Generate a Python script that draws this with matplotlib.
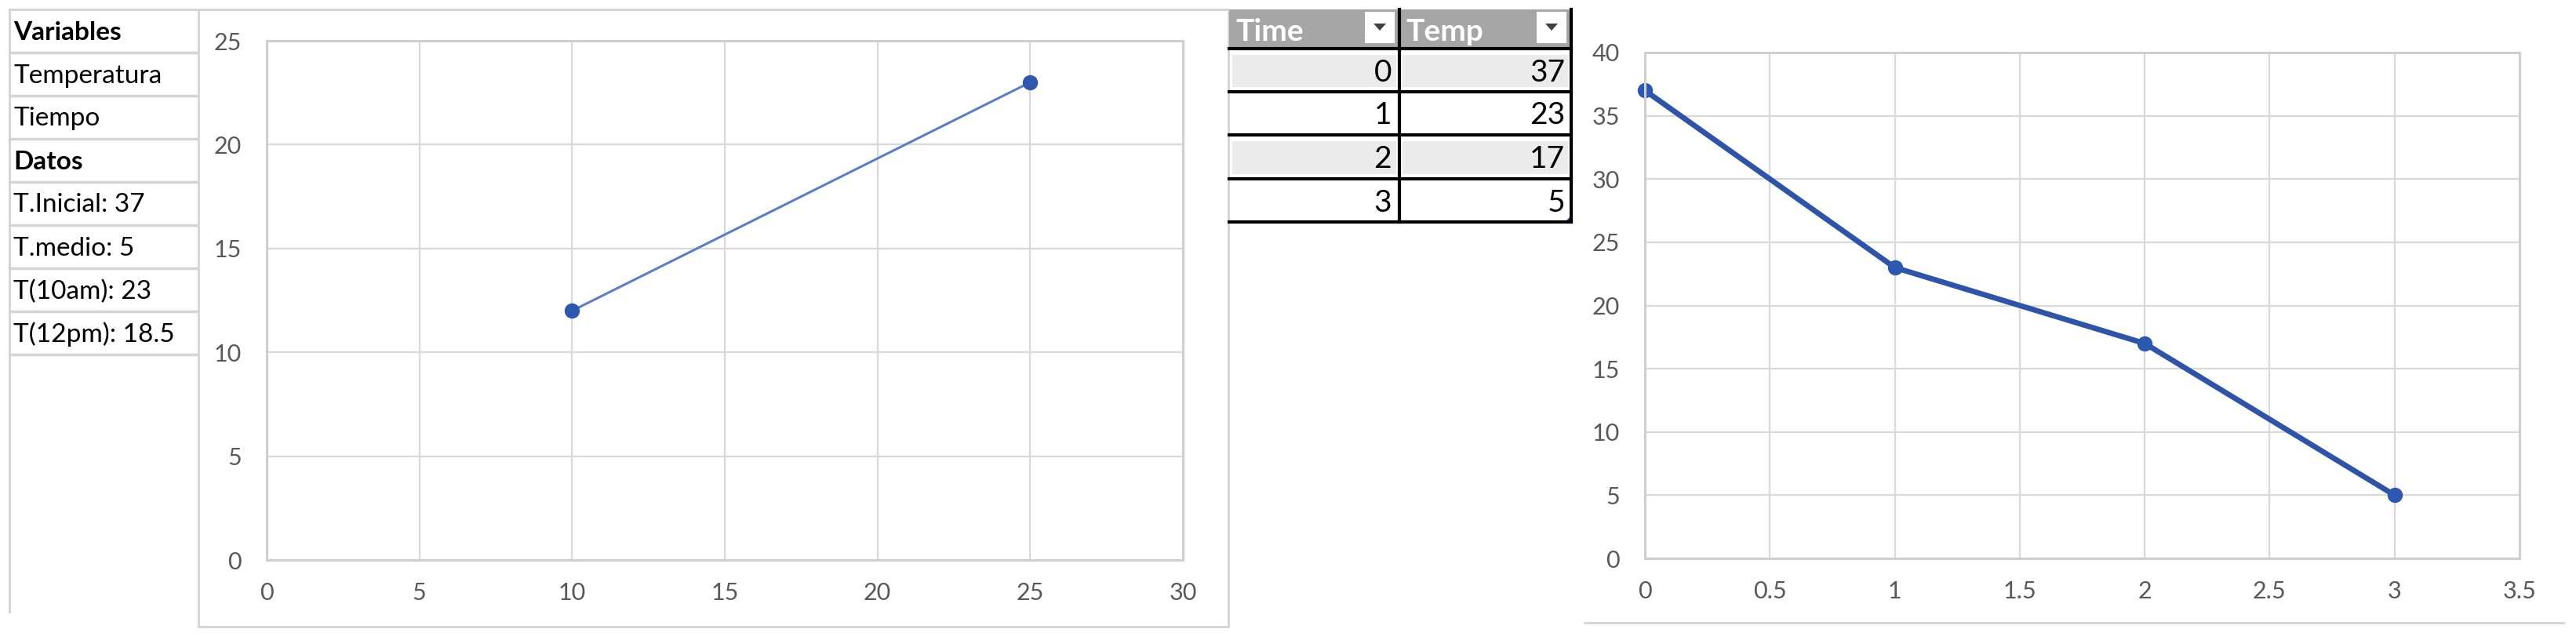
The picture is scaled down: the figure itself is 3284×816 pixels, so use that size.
import matplotlib.pyplot as plt
from matplotlib.patches import Rectangle, Polygon

plt.rcParams['font.family'] = ['Lato', 'DejaVu Sans']

# left sheet text
var_rows = ['Variables', 'Temperatura', 'Tiempo', 'Datos',
            'T.Inicial: 37', 'T.medio: 5', 'T(10am): 23', 'T(12pm): 18.5']
var_bold = [True, False, False, True, False, False, False, False]

# first chart
x1 = [10, 25]
y1 = [12, 23]
x1_ticks = [0, 5, 10, 15, 20, 25, 30]
y1_ticks = [0, 5, 10, 15, 20, 25]

# table + second chart
tbl_head = ['Time', 'Temp']
time = [0, 1, 2, 3]
temp = [37, 23, 17, 5]
x2_ticks = [0, 0.5, 1, 1.5, 2, 2.5, 3, 3.5]
y2_ticks = [0, 5, 10, 15, 20, 25, 30, 35, 40]

W, H = 3284, 816
fig = plt.figure(figsize=(W / 100, H / 100), dpi=100)

# background layer in pixel coords
bg = fig.add_axes([0, 0, 1, 1])
bg.set_xlim(0, W)
bg.set_ylim(H, 0)
bg.axis('off')

# sheet cells on the left
row_h = 55
top = 12
bg.plot([12, 1566], [top, top], color='#d4d4d4', lw=2)
bg.plot([12, 12], [top, 780], color='#d4d4d4', lw=2)
for i, (txt, b) in enumerate(zip(var_rows, var_bold)):
    y0 = top + i * row_h
    bg.plot([12, 252], [y0 + row_h, y0 + row_h], color='#d4d4d4', lw=2.5)
    bg.text(17, y0 + row_h / 2 + 2, txt, fontsize=24,
            fontweight='bold' if b else 'normal', va='center', ha='left',
            color='black')

# chart frame
bg.add_patch(Rectangle((253, 12), 1566 - 253, 799 - 12, fill=False,
                       edgecolor='#d4d4d4', lw=2))
bg.plot([2020, 3268], [794, 794], color='#d4d4d4', lw=2)

# excel table
tx = [1567, 1784, 2003]
head_top, head_bot = 12, 62
bg.add_patch(Rectangle((tx[0], head_top), tx[2] - tx[0], head_bot - head_top,
                       color='#a6a6a6', lw=0))
for c in range(2):
    bg.text(tx[c] + 8, (head_top + head_bot) / 2 + 3, tbl_head[c], fontsize=28,
            fontweight='bold', color='white', va='center', ha='left')
    bx = tx[c + 1] - 44
    bg.add_patch(Rectangle((bx, 15), 38, 40, color='white', lw=0))
    bg.add_patch(Polygon([[bx + 11, 30], [bx + 27, 30], [bx + 19, 39]],
                         color='#404040', lw=0))
rows_y = [62, 117, 172, 228, 283]
for r in range(len(time)):
    ya, yb = rows_y[r], rows_y[r + 1]
    if r % 2 == 0:
        for c in range(2):
            bg.add_patch(Rectangle((tx[c] + 4, ya + 8), tx[c + 1] - tx[c] - 8,
                                   yb - ya - 14, color='#ebebeb', lw=0))
    bg.text(tx[1] - 10, (ya + yb) / 2 + 3, str(time[r]), fontsize=28,
            ha='right', va='center', color='black')
    bg.text(tx[2] - 8, (ya + yb) / 2 + 3, str(temp[r]), fontsize=28,
            ha='right', va='center', color='black')
for yy in rows_y:
    bg.plot([tx[0], tx[2]], [yy, yy], color='black', lw=3)
bg.plot([tx[1], tx[1]], [head_top, rows_y[-1]], color='black', lw=3)
bg.plot([tx[2], tx[2]], [head_top, rows_y[-1]], color='black', lw=3)
bg.add_patch(Polygon([[tx[2], rows_y[-1] - 8], [tx[2], rows_y[-1]],
                      [tx[2] - 8, rows_y[-1]]], color='#1f3fa0', lw=0))


def px_axes(l, t, r, b):
    return fig.add_axes([l / W, 1 - b / H, (r - l) / W, (b - t) / H])


def style(ax, xt, yt):
    ax.set_xticks(xt)
    ax.set_yticks(yt)
    ax.set_xlim(xt[0], xt[-1])
    ax.set_ylim(yt[0], yt[-1])
    ax.set_xticklabels([f'{v:g}' for v in xt])
    ax.grid(True, color='#d9d9d9', lw=1.6)
    ax.set_axisbelow(True)
    for s in ax.spines.values():
        s.set_color('#cfcfcf')
        s.set_linewidth(2.2)
    ax.tick_params(length=0, labelsize=22, colors='#595959')
    ax.tick_params(axis='y', pad=23)
    ax.tick_params(axis='x', pad=20)


ax1 = px_axes(340, 52, 1508, 714)
style(ax1, x1_ticks, y1_ticks)
ax1.plot(x1, y1, color='#5b7fc6', lw=2.2, marker='o', markersize=13,
         markerfacecolor='#2c58b0', markeredgecolor='#2c58b0', clip_on=False)

ax2 = px_axes(2097, 67, 3212, 712)
style(ax2, x2_ticks, y2_ticks)
ax2.plot(time, temp, color='#2d54a8', lw=5, marker='o', markersize=13,
         markerfacecolor='#2c58b0', markeredgecolor='#2c58b0', clip_on=False)

fig.savefig('out.png', dpi=100)
